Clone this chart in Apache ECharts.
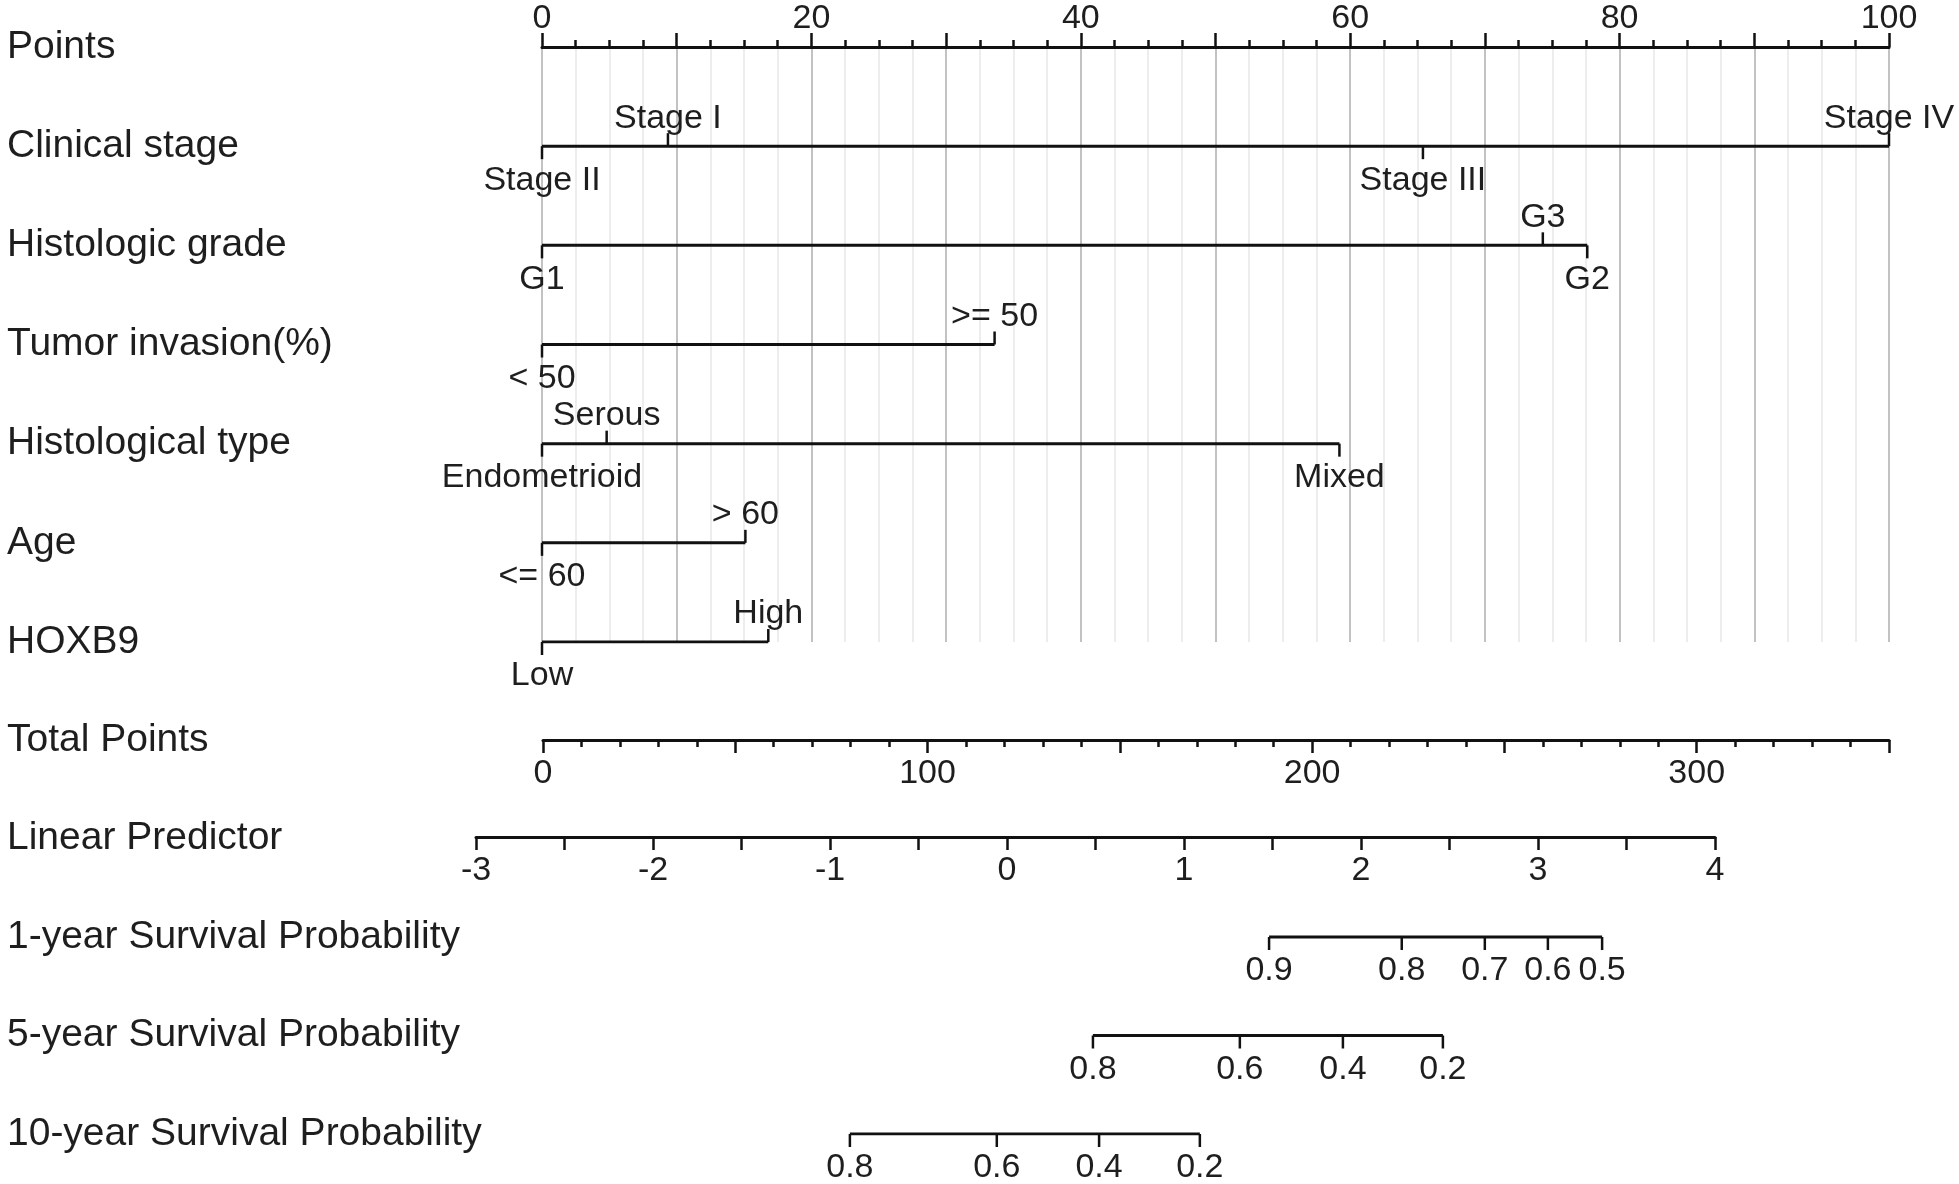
<!DOCTYPE html>
<html>
<head>
<meta charset="utf-8">
<title>Nomogram</title>
<script src="https://cdn.jsdelivr.net/npm/echarts@6/dist/echarts.min.js"></script>
<style>
  html, body { margin: 0; padding: 0; background: #fff; }
  #nomogram { width: 1959px; height: 1184px; }
</style>
</head>
<body>
<div id="nomogram"></div>
<script>
// row titles (upper block / lower block)
var topRows = ['Points', 'Clinical stage', 'Histologic grade', 'Tumor invasion(%)', 'Histological type', 'Age', 'HOXB9'];
var bottomRows = ['Total Points', 'Linear Predictor', '1-year Survival Probability', '5-year Survival Probability', '10-year Survival Probability'];

// points of each level, sorted by points
var stageLevels = ['Stage II', 'Stage I', 'Stage III', 'Stage IV'];
var stagePoints = [0, 9.35, 65.4, 100];
var gradeLevels = ['G1', 'G3', 'G2'];
var gradePoints = [0, 74.3, 77.6];
var invasionLevels = ['< 50', '>= 50'];
var invasionPoints = [0, 33.6];
var typeLevels = ['Endometrioid', 'Serous', 'Mixed'];
var typePoints = [0, 4.8, 59.2];
var ageLevels = ['<= 60', '> 60'];
var agePoints = [0, 15.1];
var hoxLevels = ['Low', 'High'];
var hoxPoints = [0, 16.8];

// survival ticks, read on the total points scale
var surv1Labels = ['0.9', '0.8', '0.7', '0.6', '0.5'];
var surv1Points = [188.8, 223.3, 244.9, 261.3, 275.4];
var surv5Labels = ['0.8', '0.6', '0.4', '0.2'];
var surv5Points = [143.0, 181.2, 208.0, 234.0];
var surv10Labels = ['0.8', '0.6', '0.4', '0.2'];
var surv10Points = [79.8, 118.0, 144.6, 170.8];

var INK = '#111';
var TXT = '#1e1e1e';
var FONT = '"Liberation Sans", Arial, sans-serif';

// one variable row: horizontal segment + labelled ticks
function levelSeries(levels, pts, row, xi, yi, allDown) {
  var lo = Math.min.apply(null, pts), hi = Math.max.apply(null, pts);
  var line = {
    type: 'line', xAxisIndex: xi, yAxisIndex: yi, symbol: 'none', silent: true,
    lineStyle: { color: INK, width: 3 },
    data: [[lo, row], [hi, row]]
  };
  var ticks = {
    type: 'custom', xAxisIndex: xi, yAxisIndex: yi, silent: true,
    data: pts.map(function (p) { return [p, row]; }),
    renderItem: function (params, api) {
      var c = api.coord([api.value(0), api.value(1)]);
      var up = !allDown && params.dataIndex % 2 === 1;
      var d = up ? -1 : 1;
      return {
        type: 'group',
        children: [
          { type: 'line', shape: { x1: c[0], y1: c[1], x2: c[0], y2: c[1] + d * 13 },
            style: { stroke: INK, lineWidth: 2.5 } },
          { type: 'text', x: c[0], y: c[1] + (up ? -28 : 34),
            style: { text: levels[params.dataIndex], fill: TXT, font: '34px ' + FONT,
                     align: 'center', verticalAlign: 'middle' } }
        ]
      };
    }
  };
  return [line, ticks];
}

var chart = echarts.init(document.getElementById('nomogram'));

var series = [].concat(
  levelSeries(stageLevels, stagePoints, 1, 0, 0),
  levelSeries(gradeLevels, gradePoints, 2, 0, 0),
  levelSeries(invasionLevels, invasionPoints, 3, 0, 0),
  levelSeries(typeLevels, typePoints, 4, 0, 0),
  levelSeries(ageLevels, agePoints, 5, 0, 0),
  levelSeries(hoxLevels, hoxPoints, 6, 0, 0),
  levelSeries(surv1Labels, surv1Points, 2, 1, 1, true),
  levelSeries(surv5Labels, surv5Points, 3, 1, 1, true),
  levelSeries(surv10Labels, surv10Points, 4, 1, 1, true)
);

chart.setOption({
  animation: false,
  backgroundColor: '#fff',
  textStyle: { fontFamily: FONT },
  grid: [
    { left: 542, top: 47, width: 1347, height: 595 },
    { left: 543, top: 740, width: 1346, height: 394 },
    { left: 476, top: 837, width: 1239, height: 60 }
  ],
  xAxis: [
    {
      gridIndex: 0, type: 'value', min: 0, max: 100, interval: 10, position: 'top',
      axisLine: { onZero: false, lineStyle: { color: INK, width: 3 } },
      axisTick: { length: 14, lineStyle: { color: INK, width: 2.5 } },
      minorTick: { show: true, splitNumber: 4, length: 7, lineStyle: { color: INK, width: 2.5 } },
      axisLabel: { fontSize: 34, color: TXT, margin: 11,
        formatter: function (v) { return v % 20 === 0 ? String(v) : ''; } },
      splitLine: { show: true, lineStyle: { color: '#c2c2c2', width: 2 } },
      minorSplitLine: { show: true, lineStyle: { color: '#e8e8e8', width: 1.5 } }
    },
    {
      gridIndex: 1, type: 'value', min: 0, max: 350, interval: 50, position: 'top',
      axisLine: { onZero: false, lineStyle: { color: INK, width: 3 } },
      axisTick: { inside: true, length: 13, lineStyle: { color: INK, width: 2.5 } },
      minorTick: { show: true, splitNumber: 5, length: 7, lineStyle: { color: INK, width: 2.5 } },
      axisLabel: { inside: true, fontSize: 34, color: TXT, margin: 17,
        formatter: function (v) { return v % 100 === 0 ? String(v) : ''; } },
      splitLine: { show: false }
    },
    {
      gridIndex: 2, type: 'value', min: -3, max: 4, interval: 0.5, position: 'top',
      axisLine: { onZero: false, lineStyle: { color: INK, width: 3 } },
      axisTick: { inside: true, length: 13, lineStyle: { color: INK, width: 2.5 } },
      axisLabel: { inside: true, fontSize: 34, color: TXT, margin: 17,
        formatter: function (v) { return Number.isInteger(v) ? String(v) : ''; } },
      splitLine: { show: false }
    }
  ],
  yAxis: [
    {
      gridIndex: 0, type: 'value', min: 0, max: 6, interval: 1, inverse: true,
      axisLine: { show: false }, axisTick: { show: false }, splitLine: { show: false },
      axisLabel: { fontSize: 39, color: TXT, align: 'left', margin: 535, padding: [5, 0, 0, 0],
        formatter: function (v) { return topRows[v] || ''; } }
    },
    {
      gridIndex: 1, type: 'value', min: 0, max: 4, interval: 1, inverse: true,
      axisLine: { show: false }, axisTick: { show: false }, splitLine: { show: false },
      axisLabel: { fontSize: 39, color: TXT, align: 'left', margin: 536, padding: [5, 0, 0, 0],
        formatter: function (v) { return bottomRows[v] || ''; } }
    },
    { gridIndex: 2, type: 'value', min: 0, max: 1, show: false }
  ],
  series: series
});
</script>
</body>
</html>
